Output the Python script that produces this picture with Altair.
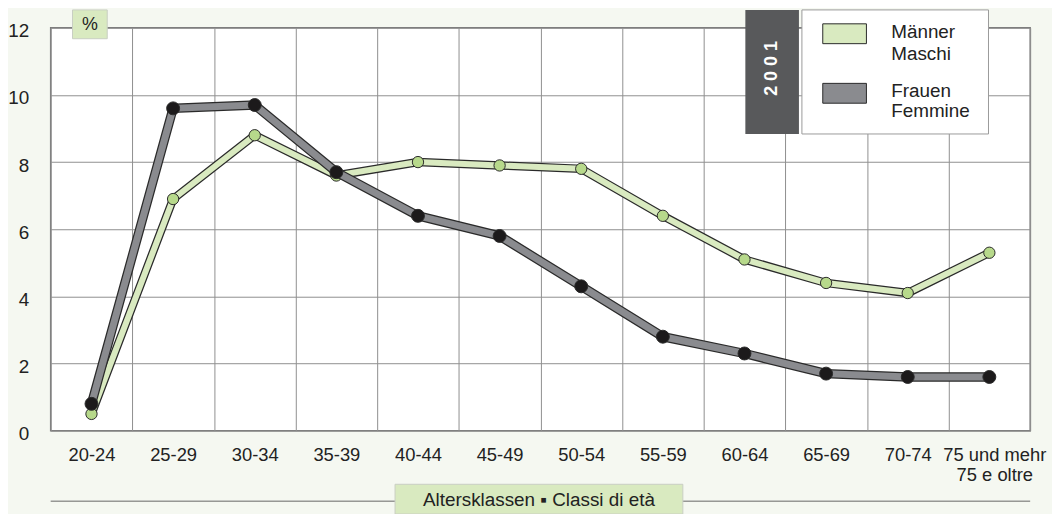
import altair as alt
import pandas as pd

ages = ["20-24", "25-29", "30-34", "35-39", "40-44", "45-49", "50-54",
        "55-59", "60-64", "65-69", "70-74", "75 und mehr|75 e oltre"]
maenner = [0.5, 6.9, 8.8, 7.6, 8.0, 7.9, 7.8, 6.4, 5.1, 4.4, 4.1, 5.3]
frauen = [0.8, 9.6, 9.7, 7.7, 6.4, 5.8, 4.3, 2.8, 2.3, 1.7, 1.6, 1.6]
y_ticks = [0, 2, 4, 6, 8, 10, 12]

FONT = "Liberation Sans"
BG = "#f5f8f1"
GREEN_LIGHT = "#d9eac0"
GREEN_PT = "#b7d98b"
GRAY_LINE = "#8a8b8f"
DARK = "#2a2a2a"
FS = 19

df = pd.DataFrame({
    "age": ages * 2,
    "value": maenner + frauen,
    "series": ["M"] * len(ages) + ["F"] * len(ages),
})

W, H = 987, 406

x_enc = alt.X(
    "age:N", sort=ages, bandPosition=0.5,
    scale=alt.Scale(type="band", paddingInner=0, paddingOuter=0),
    axis=alt.Axis(title=None, tickBand="extent", ticks=False, domain=False,
                  grid=True, gridColor="#8f8f8f", gridWidth=1,
                  labelFontSize=18.5, labelFont=FONT, labelColor="#222",
                  labelPadding=15, labelAngle=0, labelLineHeight=20,
                  labelOffset={"condition": {"test": "datum.index >= 0.99",
                                             "value": 5}, "value": 0},
                  labelExpr="split(datum.label, '|')"),
)
y_enc = alt.Y(
    "value:Q", scale=alt.Scale(domain=[0, 12], nice=False),
    axis=alt.Axis(title=None, values=y_ticks, ticks=False, domain=False,
                  grid=True, gridColor="#8f8f8f", gridWidth=1,
                  labelFontSize=FS, labelFont=FONT, labelColor="#222",
                  labelPadding=22, labelOffset=3),
)

base = alt.Chart(df).encode(x=x_enc, y=y_enc)

def series_layers(code, outline_w, inner_w, inner_col, pt_fill, pt_size):
    b = base.transform_filter(alt.datum.series == code)
    outline = b.mark_line(color=DARK, strokeWidth=outline_w)
    inner = b.mark_line(color=inner_col, strokeWidth=inner_w)
    pts = b.mark_point(filled=True, fill=pt_fill, stroke=DARK, strokeWidth=1,
                       size=pt_size, opacity=1)
    return [outline, inner, pts]

layers = []
layers += series_layers("M", 8.5, 6, GREEN_LIGHT, GREEN_PT, 130)
layers += series_layers("F", 9.5, 7, GRAY_LINE, "#1c1a1b", 170)

one = alt.Data(values=[{"a": 1}])

def box(x1, x2, y1, y2, fill, stroke=None, sw=1):
    kw = dict(fill=fill)
    if stroke:
        kw.update(stroke=stroke, strokeWidth=sw)
    return alt.Chart(one).mark_rect(**kw).encode(
        x=alt.value(x1), x2=alt.value(x2), y=alt.value(y1), y2=alt.value(y2))

def label(txt, x, y, size=FS, color="#222", align="left", **kw):
    return alt.Chart(one).mark_text(text=txt, font=FONT, fontSize=size,
                                    color=color, align=align,
                                    baseline="middle", **kw).encode(
        x=alt.value(x), y=alt.value(y))

# % box
layers.append(box(22, 57, -18, 11, GREEN_LIGHT, "#c9cfc3"))
layers.append(label("%", 39.5, -3, size=18, align="center"))

# year box and legend
layers.append(box(700, 754, -18, 107, "#58595b"))
layers.append(label("2 0 0 1", 727, 41, size=18, color="white",
                    align="center", angle=270, fontWeight="bold"))
layers.append(box(757, 945, -18, 107, "white", "#9a9a9a"))
layers.append(box(778, 822, -4, 16, GREEN_LIGHT, DARK))
layers.append(box(778, 822, 56, 76, GRAY_LINE, DARK))
layers.append(label("Männer", 847, 4))
layers.append(label("Maschi", 847, 26))
layers.append(label("Frauen", 847, 64))
layers.append(label("Femmine", 847, 84))

# bottom axis title
layers.append(alt.Chart(one).mark_rule(color="#666", strokeWidth=1).encode(
    x=alt.value(0), x2=alt.value(W), y=alt.value(477)))
layers.append(box(347, 637, 460, 490, GREEN_LIGHT, "#c9cfc3"))
layers.append(label("Altersklassen ▪ Classi di età", 492, 476,
                    align="center"))

chart = alt.layer(*layers).properties(
    width=W, height=H,
    autosize=alt.AutoSizeParams(type="none"),
    padding={"left": 43, "top": 18, "right": 22, "bottom": 82},
    background=BG,
).configure_view(stroke="#7a7a7a", strokeWidth=1.5, fill="white")

chart.save("out.html", embed_options={"renderer": "svg", "actions": False})
